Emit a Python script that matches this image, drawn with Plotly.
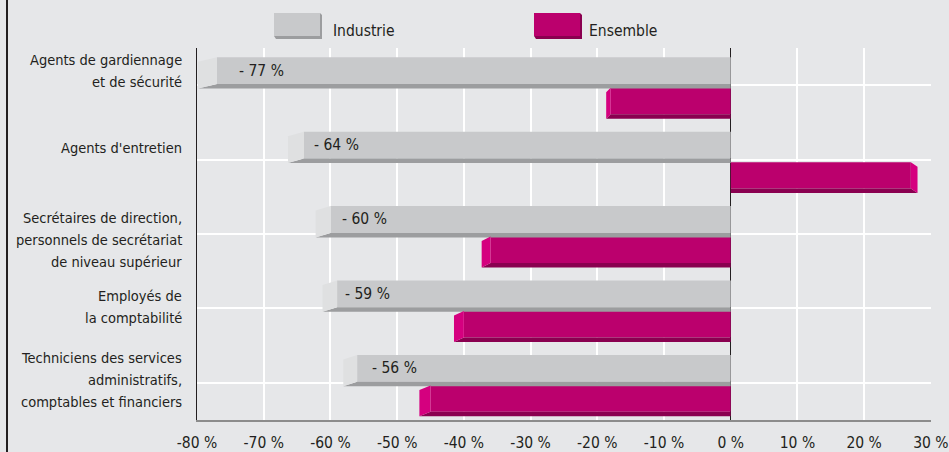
import plotly.graph_objects as go

# ---------------- data ----------------
categories = [
    "Agents de gardiennage<br>et de sécurité",
    "Agents d'entretien",
    "Secrétaires de direction,<br>personnels de secrétariat<br>de niveau supérieur",
    "Employés de<br>la comptabilité",
    "Techniciens des services<br>administratifs,<br>comptables et financiers",
]
industrie = [-77, -64, -60, -59, -56]
ensemble = [-18, 27, -36, -40, -45]
industrie_labels = ["- 77 %", "- 64 %", "- 60 %", "- 59 %", "- 56 %"]
series_names = ["Industrie", "Ensemble"]
x_ticks = [-80, -70, -60, -50, -40, -30, -20, -10, 0, 10, 20, 30]
x_tick_labels = [f"{v} %" for v in x_ticks]

# ---------------- style / layout ----------------
W, H = 949, 452
L, R, T, B = 197, 18, 48, 32
PW, PH = W - L - R, H - T - B
CAT_PX = PH / len(categories)
FONT = "DejaVu Sans Condensed, sans-serif"
TXT = "#231f20"
BG = "#e6e7e9"
GRAY = dict(front="#c8c9cb", cap="#dfe0e1", strip="#9c9d9f")
MAG = dict(front="#bb006d", cap="#d5007f", strip="#8a0050")
GRAY_BAND = (-0.375, -0.015)
MAG_BAND = (0.035, 0.39)
DEPTH_K = 0.037
DEPTH_DY = 4.5 / CAT_PX
label_xshift = [20, 8, 10, 6, 13]
cat_label_offset = [-0.191, -0.156, 0.087, -0.019, -0.038]
LINE_PX = 22
FS_CAT = 14.5
FS_VAL = 15.5
FS_TICK = 15.5


def px_x(p):
    return (p - L) / PW


def px_y(p):
    return (H - B - p) / PH


def depth_polys(values, band):
    """3D bottom strip and end cap polygons, computed from data values."""
    sx, sy, cx, cy = [], [], [], []
    for i, v in enumerate(values):
        y1, y2 = i + band[0], i + band[1]
        vn = v * (1 + DEPTH_K)
        sx += [0, v, vn, 0, 0, None]
        sy += [y2, y2, y2 + DEPTH_DY, y2 + DEPTH_DY, y2, None]
        cx += [v, vn, vn, v, v, None]
        cy += [y1, y1 + DEPTH_DY, y2 + DEPTH_DY, y2, y1, None]
    return (sx, sy), (cx, cy)


fig = go.Figure()

for vals, band, col, name in [
    (industrie, GRAY_BAND, GRAY, series_names[0]),
    (ensemble, MAG_BAND, MAG, series_names[1]),
]:
    centre = (band[0] + band[1]) / 2
    fig.add_trace(go.Bar(
        y=[i + centre for i in range(len(vals))], x=vals, base=0,
        orientation="h", width=band[1] - band[0],
        marker=dict(color=col["front"], line=dict(width=0)),
        name=name, showlegend=False, hoverinfo="skip",
    ))
    (sx, sy), (cx, cy) = depth_polys(vals, band)
    fig.add_trace(go.Scatter(x=sx, y=sy, mode="lines", fill="toself",
                             fillcolor=col["strip"], line=dict(width=0),
                             showlegend=False, hoverinfo="skip"))
    fig.add_trace(go.Scatter(x=cx, y=cy, mode="lines", fill="toself",
                             fillcolor=col["cap"], line=dict(width=0),
                             showlegend=False, hoverinfo="skip"))

annotations = []
# bar value labels
for i, (v, lab) in enumerate(zip(industrie, industrie_labels)):
    annotations.append(dict(
        x=v, y=i + (GRAY_BAND[0] + GRAY_BAND[1]) / 2, xref="x", yref="y",
        text=lab, showarrow=False, xanchor="left", yanchor="middle",
        xshift=label_xshift[i], font=dict(family=FONT, size=FS_VAL, color=TXT)))

# category labels (one annotation per line to mimic the wider line spacing)
for i, cat in enumerate(categories):
    lines = cat.split("<br>")
    n = len(lines)
    for j, line in enumerate(lines):
        annotations.append(dict(
            x=px_x(184), y=i + cat_label_offset[i], xref="paper", yref="y",
            text=line, showarrow=False, xanchor="right", yanchor="middle",
            yshift=-(j - (n - 1) / 2) * LINE_PX,
            font=dict(family=FONT, size=FS_CAT, color=TXT)))

# legend
shapes = []
legend_items = [(series_names[0], GRAY, 274, 331), (series_names[1], MAG, 534, 587)]
for name, col, x0, tx in legend_items:
    x1 = x0 + 46
    shapes.append(dict(type="rect", xref="paper", yref="paper",
                       x0=px_x(x0), x1=px_x(x1), y0=px_y(36), y1=px_y(13),
                       fillcolor=col["front"], line=dict(width=0), layer="above"))
    path = (f"M {px_x(x1)},{px_y(13)} L {px_x(x1 + 2)},{px_y(15)} "
            f"L {px_x(x1 + 2)},{px_y(39)} L {px_x(x0 + 2)},{px_y(39)} "
            f"L {px_x(x0)},{px_y(36)} L {px_x(x1)},{px_y(36)} Z")
    shapes.append(dict(type="path", xref="paper", yref="paper", path=path,
                       fillcolor=col["strip"], line=dict(width=0), layer="above"))
    annotations.append(dict(x=px_x(tx), y=px_y(31), xref="paper", yref="paper",
                            text=name, showarrow=False, xanchor="left",
                            yanchor="middle",
                            font=dict(family=FONT, size=FS_VAL, color=TXT)))

# left frame line
shapes.append(dict(type="line", xref="paper", yref="paper",
                   x0=px_x(7), x1=px_x(7), y0=px_y(H), y1=px_y(0),
                   line=dict(color=TXT, width=2)))

fig.update_layout(
    width=W, height=H,
    margin=dict(l=L, r=R, t=T, b=B, pad=0, autoexpand=False),
    paper_bgcolor=BG, plot_bgcolor=BG,
    barmode="overlay", showlegend=False,
    annotations=annotations, shapes=shapes,
    font=dict(family=FONT, size=FS_TICK, color=TXT),
)
fig.update_xaxes(
    range=[-80, 30.02], tickvals=x_ticks, ticktext=x_tick_labels,
    showgrid=True, gridcolor="white", gridwidth=1.5,
    zeroline=True, zerolinecolor=TXT, zerolinewidth=1,
    showline=True, linecolor="#8c8c8c", linewidth=2,
    ticks="outside", ticklen=7, tickcolor="rgba(0,0,0,0)",
    tickfont=dict(family=FONT, size=FS_TICK, color=TXT),
    automargin=False, fixedrange=True,
)
fig.update_yaxes(
    range=[len(categories) - 0.5, -0.5], tickvals=list(range(len(categories))),
    showticklabels=False, showgrid=True, gridcolor="white", gridwidth=1.5,
    zeroline=False, showline=True, linecolor=TXT, linewidth=1,
    automargin=False, fixedrange=True,
)

fig.write_html("out.html")
